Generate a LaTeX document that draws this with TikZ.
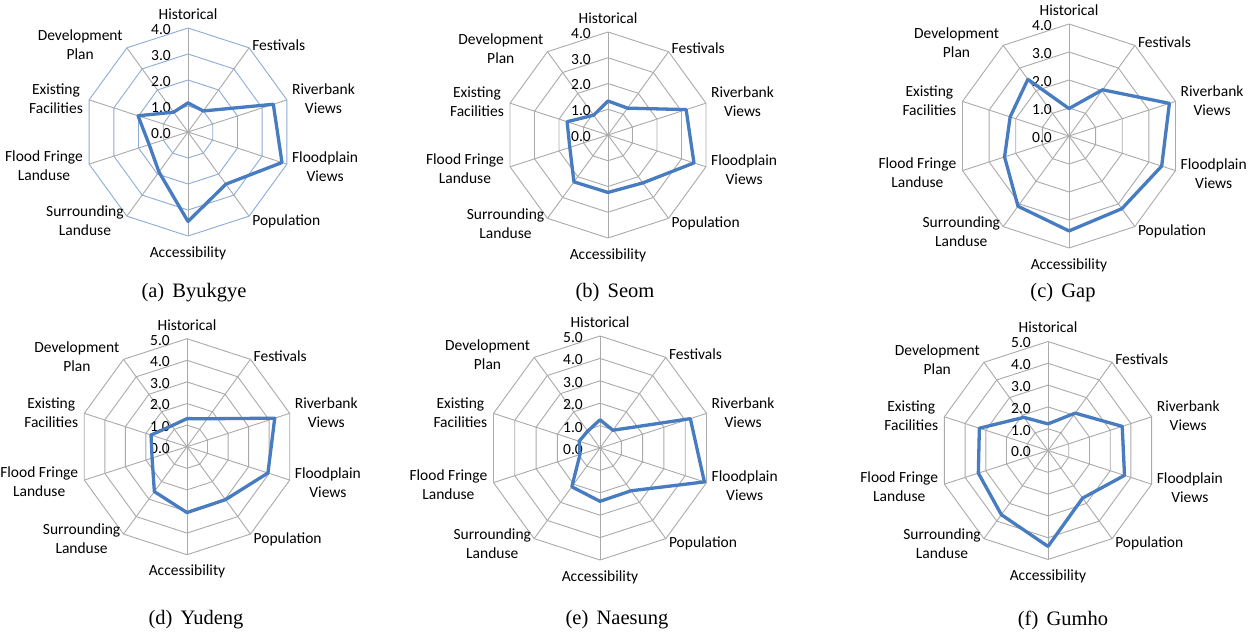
\documentclass[tikz,border=0pt]{standalone}
\usepackage{fontspec}
\setmainfont{Liberation Serif}
\newfontfamily\lblfont{Carlito}
\usetikzlibrary{calc}

\definecolor{gridgray}{RGB}{170,170,170}
\definecolor{gridblue}{RGB}{140,172,218}
\definecolor{datablue}{RGB}{72,124,192}

\tikzset{
  gridline/.style={line width=0.9bp},
  dataline/.style={datablue, line width=3.3bp, line join=round},
  axislabel/.style={font=\lblfont\fontsize{15.5bp}{19bp}\selectfont, inner sep=0pt, align=center},
  ticklabel/.style={font=\lblfont\fontsize{15.5bp}{19bp}\selectfont, inner sep=0pt, anchor=east},
  captionlbl/.style={font=\fontsize{20.5bp}{24bp}\selectfont, inner sep=0pt},
}

% #1 name, #2 cx, #3 cy, #4 R, #5 nmax, #6 ring colour, #7 values
\newcommand{\radarchart}[7]{%
  \begin{scope}[shift={(#2,#3)}]
    \foreach \k in {1,...,#5}{
      \draw[gridline, #6] (-90:{\k*#4/#5}) \foreach \i in {1,...,9}{ -- ({36*\i-90}:{\k*#4/#5}) } -- cycle;
    }
    \foreach \i in {0,...,9}{
      \draw[gridline, gridgray] (0,0) -- ({36*\i-90}:#4);
    }
    \foreach \k in {0,...,#5}{
      \node[ticklabel] (#1-t\k) at (-17, {-\k*#4/#5+1.5}) {\k.0};
    }
    \foreach \v [count=\i from 0] in {#7}{
      \coordinate (#1-p\i) at ({36*\i-90}:{\v*#4/#5});
    }
    \draw[dataline] (#1-p0) \foreach \i in {1,...,9}{ -- (#1-p\i) } -- cycle;
    \foreach \i/\txt/\anc/\dx/\dy in {
      0/Historical/center/0/-14,
      1/Festivals/west/3/-3,
      2/{Riverbank\\Views}/west/5/-1,
      3/{Floodplain\\Views}/west/5/3,
      4/Population/west/3/5,
      5/Accessibility/center/0/17,
      6/{Surrounding\\Landuse}/east/-3/5,
      7/{Flood Fringe\\Landuse}/east/-6/2,
      8/{Existing\\Facilities}/east/-6/-1,
      9/{Development\\Plan}/east/-4/-3}{
      \node[axislabel, anchor=\anc] (#1-l\i) at ($({36*\i-90}:#4)+(\dx,\dy)$) {\txt};
    }
  \end{scope}
}

\begin{document}
\begin{tikzpicture}[x=1bp, y=-1bp]
  \useasboundingbox (0,0) rectangle (1256,632);
  \fill[white] (0,0) rectangle (1256,632);

  \radarchart{a}{188}{132}{104}{4}{gridblue}{1.12,1.0,3.45,3.8,2.48,3.44,1.9,1.57,2.02,0.94}
  \radarchart{b}{608}{135}{103}{4}{gridgray}{1.32,1.29,3.19,3.51,2.3,2.23,2.25,1.56,1.67,0.95}
  \radarchart{c}{1069}{136}{112}{4}{gridgray}{0.98,2.04,3.77,3.48,3.21,3.39,3.1,2.42,2.21,2.5}
  \radarchart{d}{187}{446.7}{108}{5}{gridgray}{1.3,1.6,4.27,3.94,3.03,3.05,2.57,1.7,1.75,1.2}
  \radarchart{e}{600}{448}{112}{5}{gridgray}{1.26,0.98,4.24,4.9,2.36,2.38,2.14,0.94,0.98,0.93}
  \radarchart{f}{1048}{450.5}{109}{5}{gridgray}{1.22,2.12,3.58,3.69,2.7,4.4,3.64,3.36,3.31,1.88}

  \node[captionlbl] (capa) at (194,292.5) {(a)\hspace{0.4em}Byukgye};
  \node[captionlbl] (capb) at (615,292.5) {(b)\hspace{0.4em}Seom};
  \node[captionlbl] (capc) at (1063,292.5) {(c)\hspace{0.4em}Gap};
  \node[captionlbl] (capd) at (196,620) {(d)\hspace{0.4em}Yudeng};
  \node[captionlbl] (cape) at (617,620) {(e)\hspace{0.4em}Naesung};
  \node[captionlbl] (capf) at (1063,620) {(f)\hspace{0.4em}Gumho};
\end{tikzpicture}
\end{document}
